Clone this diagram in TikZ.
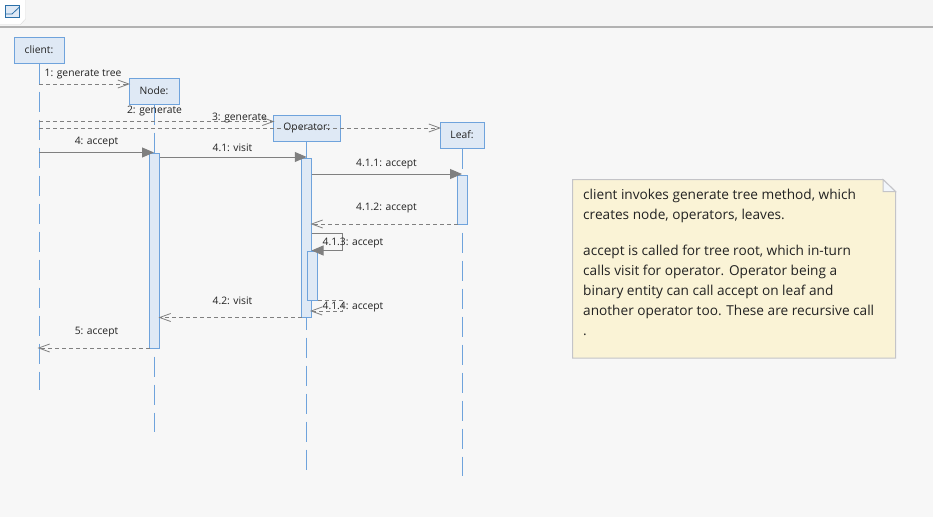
\documentclass[tikz,border=0pt]{standalone}
\usepackage{fontspec}
\setmainfont{Open Sans}
\usepackage{xcolor}
\usetikzlibrary{positioning,calc,arrows.meta}
\definecolor{pagebg}{HTML}{F7F7F7}
\definecolor{boxfill}{HTML}{DFE9F5}
\definecolor{boxline}{HTML}{6FA3DC}
\definecolor{msgline}{HTML}{808080}
\definecolor{notefill}{HTML}{FAF3D6}
\definecolor{noteline}{HTML}{C4C4C8}
\definecolor{labeltext}{HTML}{222222}
\definecolor{iconline}{HTML}{2A6FA8}
\tikzset{
    objbox/.style={draw=boxline, fill=boxfill, line width=1pt, minimum height=26pt, inner sep=0pt, font=\fontsize{10.3}{12}\selectfont, text=labeltext},
    lifeline/.style={draw=boxline, line width=1pt, dash pattern=on 20pt off 8pt},
    actbox/.style={draw=boxline, fill=boxfill, line width=1pt, minimum width=10pt, inner sep=0pt},
    callmsg/.style={draw=msgline, line width=1pt, -{Triangle[length=12pt,width=10pt]}},
    replymsg/.style={draw=msgline, line width=0.8pt, dash pattern=on 4pt off 3pt, shorten >=-1.5pt, -{Straight Barb[length=11pt,width=8pt]}},
    msglabel/.style={inner sep=0pt, font=\fontsize{10.3}{12}\selectfont, text=labeltext}
}
\begin{document}
\begin{tikzpicture}[x=1pt,y=-1pt]
    \useasboundingbox (0,0) rectangle (933,517);
    \fill[pagebg] (0,0) rectangle (933,517);

    % Tab bar
    \fill[black!4] (0,0) rectangle (933,26);
    \fill[white] (0,0) -- (25.5,0) -- (25.5,19) -- (20.5,24.5) -- (0,24.5) -- cycle;
    \draw[black!15] (25.5,0) -- (25.5,19) -- (20.5,24.5) -- (0,24.5);
    \draw[black!30, line width=1.5pt] (0,27) -- (933,27);
    \draw[fill=boxfill, draw=iconline, line width=1pt] (5.5,5.5) rectangle (19.5,17.5);
    \draw[iconline, line width=0.8pt] (5.5,14) -- (12,14) -- (19.5,7);

    % Objects
    \node[objbox, minimum width=50pt] (client) at (39,50) {client:};
    \node[objbox, minimum width=50pt] (treenode) at (154,91) {Node:};
    \node[objbox, minimum width=66.5pt] (operator) at (306.75,128) {Operator:};
    \node[objbox, minimum width=44pt] (leaf) at (462,135) {Leaf:};

    % Lifelines
    \coordinate (clientend) at (39,390);
    \coordinate (nodeend) at (154,432);
    \coordinate (operatorend) at (306.75,470);
    \coordinate (leafend) at (462,476);
    \draw[lifeline] (client.south) -- (clientend);
    \draw[lifeline] (treenode.south) -- (nodeend);
    \draw[lifeline] (operator.south) -- (operatorend);
    \draw[lifeline] (leaf.south) -- (leafend);

    % Activations
    \node[actbox, minimum height=195pt] (nodeact) at (154.5,250.5) {};
    \node[actbox, minimum height=159.5pt] (operatoract) at (306.5,237.75) {};
    \node[actbox, minimum height=48.5pt] (leafact) at (462.5,199.75) {};
    \node[actbox, minimum height=49pt] (nestedact) at (312.5,275.5) {};

    % Messages
    \coordinate (m1) at (39,84);
    \coordinate (m2) at (39,121.5);
    \coordinate (m3) at (39,128);
    \coordinate (m4) at (39,152.5);
    \coordinate (m41) at (159.5,157);
    \coordinate (m411) at (311.5,174);
    \coordinate (m412) at (457.5,224);
    \coordinate (selfa) at (311.5,233.5);
    \coordinate (selfb) at (342.5,233.5);
    \coordinate (selfc) at (342.5,250.5);
    \coordinate (selfd) at (311.5,250.5);
    \coordinate (backa) at (317.5,300);
    \coordinate (backb) at (342.5,300);
    \coordinate (backc) at (342.5,311);
    \coordinate (backd) at (311.5,311);
    \coordinate (m42) at (301.5,317.5);
    \coordinate (m5) at (149.5,348);
    \draw[replymsg] (m1) -- (m1 -| treenode.west);
    \draw[replymsg] (m2) -- (m2 -| operator.west);
    \draw[replymsg] (m3) -- (m3 -| leaf.west);
    \draw[callmsg] (m4) -- (m4 -| treenode.south);
    \draw[callmsg] (m41) -- (m41 -| operator.south);
    \draw[callmsg] (m411) -- (m411 -| leaf.south);
    \draw[replymsg] (m412) -- (m412 -| operatoract.east);
    \draw[callmsg] (selfa) -- (selfb) -- (selfc) -- (selfd);
    \draw[replymsg] (backa) -- (backb) -- (backc) -- (backd);
    \draw[replymsg] (m42) -- (m42 -| nodeact.east);
    \draw[replymsg] (m5) -- (m5 -| client.south);

    % Message labels
    \node[msglabel] (l1) at (83,74.5) {1: generate tree};
    \node[msglabel] (l2) at (154.5,111.5) {2: generate};
    \node[msglabel] (l3) at (239.5,118.5) {3: generate};
    \node[msglabel] (l4) at (96.5,142.5) {4: accept};
    \node[msglabel] (l41) at (232.5,147.5) {4.1: visit};
    \node[msglabel] (l411) at (386.5,164.5) {4.1.1: accept};
    \node[msglabel] (l412) at (386.5,208.5) {4.1.2: accept};
    \node[msglabel] (l413) at (353,243.5) {4.1.3: accept};
    \node[msglabel] (l414) at (353,307.5) {4.1.4: accept};
    \node[msglabel] (l42) at (232.5,301) {4.2: visit};
    \node[msglabel] (l5) at (96.5,332.5) {5: accept};

    % Note
    \draw[fill=notefill, draw=noteline, line width=1pt] (572.5,179.5) -- (883,179.5) -- (895.5,191.5) -- (895.5,358) -- (572.5,358) -- cycle;
    \draw[fill=white!60!boxfill, draw=noteline, line width=1pt] (883,179.5) -- (883,191.5) -- (895.5,191.5) -- cycle;
    \node[anchor=north west, inner sep=0pt, align=left, text=labeltext, font=\fontsize{13.65}{20}\selectfont] (notetext) at (583,189)
        {client invokes generate tree method, which\\
         creates node, operators, leaves.\\[16pt]
         accept is called for tree root, which in-turn\\
         calls visit for operator. Operator being a\\
         binary entity can call accept on leaf and\\
         another operator too. These are recursive call\\
         .};
\end{tikzpicture}
\end{document}
